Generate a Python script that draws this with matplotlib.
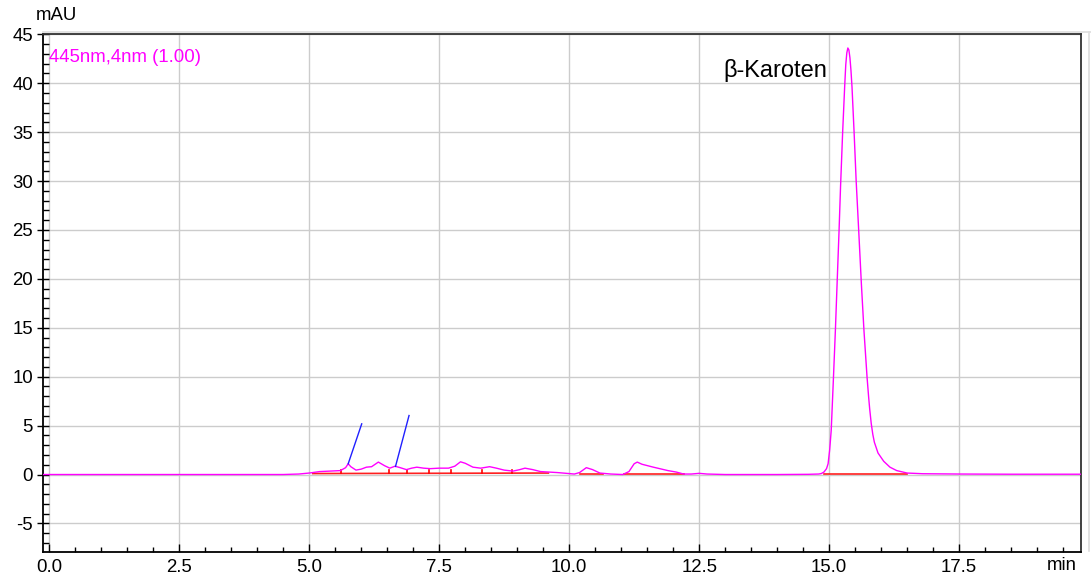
import matplotlib
matplotlib.use("Agg")
import matplotlib.pyplot as plt
from matplotlib.ticker import MultipleLocator
from matplotlib.lines import Line2D

plt.rcParams['font.family'] = ['Liberation Sans', 'DejaVu Sans']

# ---- data: chromatogram trace (retention time in min, absorbance in mAU) ----
time_min = [-0.12, 0.0, 1.0, 2.0, 3.0, 4.0, 4.5, 4.8, 5.0, 5.2, 5.4, 5.6, 5.7, 5.75,
            5.8, 5.9, 6.0, 6.1, 6.2, 6.33, 6.45, 6.55, 6.65, 6.75, 6.87, 6.97,
            7.07, 7.2, 7.33, 7.5, 7.68, 7.8, 7.91, 8.0, 8.15, 8.3, 8.47, 8.6,
            8.75, 8.92, 9.05, 9.15, 9.3, 9.45, 9.77, 10.1, 10.2, 10.33, 10.45,
            10.59, 10.8, 11.03, 11.15, 11.25, 11.31, 11.4, 11.51, 11.62, 11.74,
            11.9, 12.06, 12.2, 12.35, 12.5, 12.65, 13.0, 14.0, 14.6, 14.8, 14.85,
            14.9, 14.95, 14.98, 15.01, 15.04, 15.08, 15.12, 15.16, 15.19, 15.22,
            15.26, 15.3, 15.32, 15.34, 15.36, 15.38, 15.4, 15.42, 15.44, 15.48,
            15.52, 15.57, 15.62, 15.67, 15.73, 15.76, 15.78, 15.81, 15.84, 15.87,
            15.94, 16.05, 16.17, 16.3, 16.5, 16.8, 17.5, 18.5, 19.85]
signal_mau = [0.0, 0.0, 0.0, 0.0, 0.0, 0.0, 0.0, 0.05, 0.15, 0.3, 0.35, 0.4, 0.7, 1.1,
              0.8, 0.45, 0.55, 0.75, 0.8, 1.27, 0.9, 0.65, 0.85, 0.7, 0.5, 0.65,
              0.75, 0.65, 0.6, 0.65, 0.65, 0.85, 1.3, 1.15, 0.75, 0.65, 0.8, 0.65,
              0.45, 0.35, 0.5, 0.65, 0.5, 0.3, 0.2, 0.05, 0.2, 0.7, 0.5,
              0.15, 0.05, 0.0, 0.3, 1.1, 1.27, 1.05, 0.9, 0.75, 0.6,
              0.4, 0.25, 0.05, 0.05, 0.12, 0.05, 0.0, 0.0, 0.02, 0.05, 0.1,
              0.25, 0.6, 1.1, 2.5, 4.5, 9.5, 14.7, 20.5, 24.8, 29.5,
              35.0, 39.8, 41.9, 43.1, 43.6, 43.4, 42.6, 41.3, 39.6, 35.0,
              30.0, 24.8, 19.5, 14.7, 9.9, 7.9, 6.7, 5.2, 4.1, 3.3,
              2.2, 1.35, 0.75, 0.4, 0.15, 0.08, 0.05, 0.03, 0.03]

# integration baselines (start/end time, start/end level)
base_t0 = [5.07, 10.2, 11.05, 14.9]
base_t1 = [9.6, 10.65, 12.2, 16.5]
base_v0 = [0.1, 0.05, 0.05, 0.1]
base_v1 = [0.15, 0.05, 0.05, 0.1]
# peak boundary marks on the baseline
bound_t = [5.62, 6.54, 6.88, 7.31, 7.72, 8.33, 8.91]
bound_v = [0.15, 0.15, 0.15, 0.15, 0.15, 0.15, 0.15]

# label leader lines (blue)
lead_t0 = [5.75, 6.66]
lead_v0 = [1.1, 0.83]
lead_t1 = [6.01, 6.92]
lead_v1 = [5.18, 6.03]

peak_label = "β-Karoten"
peak_label_t = 14.97
peak_label_v = 40.65

channel_label = "445nm,4nm (1.00)"
x_ticks = [0.0, 2.5, 5.0, 7.5, 10.0, 12.5, 15.0, 17.5]
y_ticks = [-5, 0, 5, 10, 15, 20, 25, 30, 35, 40, 45]

W, H = 1091, 579
fig = plt.figure(figsize=(W / 100, H / 100), dpi=100)
ax = fig.add_axes([43 / W, 1 - 551.7 / H, (1081.3 - 43) / W, (551.7 - 34.3) / H])

ax.set_xlim(-0.12, 19.85)
ax.set_ylim(-7.89, 44.8)

ax.set_xticks(x_ticks)
ax.set_xticklabels([f"{v:.1f}" for v in x_ticks])
ax.set_yticks(y_ticks)
ax.set_yticklabels([str(v) for v in y_ticks])
ax.xaxis.set_minor_locator(MultipleLocator(0.5))
ax.yaxis.set_minor_locator(MultipleLocator(1))

ax.grid(True, which='major', color='#cccccc', linewidth=1.0)
ax.set_axisbelow(True)

ax.tick_params(axis='x', which='major', direction='in', length=6, width=1.0,
               labelsize=13.4, pad=5, colors='black')
ax.tick_params(axis='x', which='minor', direction='in', length=3.5, width=1.0)
ax.tick_params(axis='y', which='major', direction='inout', length=8.5, width=1.0,
               labelsize=13.4, pad=3)
ax.tick_params(axis='y', which='minor', direction='in', length=4, width=1.0)

for s in ['left', 'bottom']:
    ax.spines[s].set_linewidth(1.3)
    ax.spines[s].set_color('black')
for s in ['top', 'right']:
    ax.spines[s].set_linewidth(1.3)
    ax.spines[s].set_color('#333333')

# baselines
for t0, t1, v0, v1 in zip(base_t0, base_t1, base_v0, base_v1):
    ax.plot([t0, t1], [v0, v1], color='#ff2020', linewidth=1.2, zorder=3)
for t, v in zip(bound_t, bound_v):
    ax.plot([t, t], [v, v + 0.35], color='#ff0000', linewidth=1.2, zorder=3)

# trace
ax.plot(time_min, signal_mau, color='#ff00ff', linewidth=1.0, zorder=4)

# leaders
for t0, v0, t1, v1 in zip(lead_t0, lead_v0, lead_t1, lead_v1):
    ax.plot([t0, t1], [v0, v1], color='#2020ff', linewidth=1.0, zorder=5)

ax.text(peak_label_t, peak_label_v, peak_label, fontsize=17, ha='right',
        va='baseline', color='black', zorder=6)
ax.text(0.0055, 0.956, channel_label, transform=ax.transAxes, fontsize=13.4,
        color='#ff00ff', ha='left', va='center')

fig.text(36 / W, 1 - 15 / H, "mAU", fontsize=13.4, ha='left', va='center')
fig.text(1062 / W, 1 - 565 / H, "min", fontsize=13.4, ha='center', va='center')

# outer light frame lines
fig.add_artist(Line2D([43 / W, 1.0], [1 - 31.5 / H, 1 - 31.5 / H],
                      transform=fig.transFigure, color='#dddddd', linewidth=1.2))
fig.add_artist(Line2D([1089 / W, 1089 / W], [1 - 31.5 / H, 1 - 551 / H],
                      transform=fig.transFigure, color='#dddddd', linewidth=1.2))

fig.savefig("out.png", dpi=100)
